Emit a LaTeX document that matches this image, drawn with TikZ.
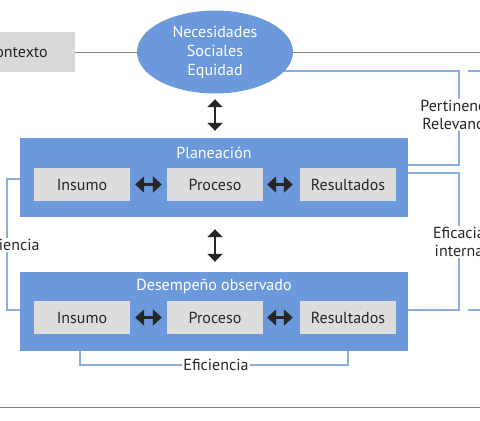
\documentclass[tikz,border=0pt]{standalone}
\usepackage{fontspec}
\setmainfont{PT Sans}
\usetikzlibrary{arrows.meta,backgrounds,shapes.geometric}
\definecolor{boxblue}{RGB}{108,153,219}
\definecolor{lineblue}{RGB}{138,174,224}
\definecolor{innergray}{RGB}{221,221,221}
\definecolor{ctxgray}{RGB}{217,217,217}
\definecolor{rulegray}{RGB}{128,128,128}
\tikzset{
  txt/.style={font=\fontsize{16}{18}\selectfont},
  bigbox/.style={rectangle, fill=boxblue, minimum width=388pt, minimum height=79pt, inner sep=0},
  innerbox/.style={rectangle, fill=innergray, minimum width=96pt, minimum height=33pt, inner sep=0, txt, text=black!85},
  title/.style={txt, text=white, inner sep=0},
  harrow/.style={{Triangle[width=16pt,length=9pt]}-{Triangle[width=16pt,length=9pt]}, line width=3.5pt, black!85},
  varrow/.style={{Triangle[width=15pt,length=8pt]}-{Triangle[width=15pt,length=8pt]}, line width=2pt, black!85},
  bluelink/.style={draw=lineblue, line width=2pt},
  graylink/.style={draw=rulegray, line width=1pt},
  lbl/.style={txt, fill=white, inner sep=1.5pt, align=center, text=black!85}
}
\begin{document}
\begin{tikzpicture}[x=1pt,y=-1pt]
\useasboundingbox (0,0) rectangle (480,421);
\clip (0,0) rectangle (480,421);
% context box
\node[rectangle, fill=ctxgray, minimum width=120pt, minimum height=40pt, inner sep=0, anchor=east] (ctx) at (75,52) {};
\node[txt, anchor=base east, inner sep=0, text=black!85] (ctxt) at (48,57.5) {Contexto};
% ellipse
\node[ellipse, fill=boxblue, minimum width=156pt, minimum height=83pt, inner sep=0, text=white, align=center, font=\fontsize{16}{19}\selectfont] (nec) at (215,52) {Necesidades\\Sociales\\Equidad};
% big boxes
\node[bigbox] (plan) at (214,177.5) {};
\node[title] (plant) at (214,153) {Planeación};
\node[innerbox] (ins1) at (82,184.5) {Insumo};
\node[innerbox] (pro1) at (215,184.5) {Proceso};
\node[innerbox] (res1) at (348,184.5) {Resultados};
\node[bigbox] (des) at (214,311.5) {};
\node[title] (dest) at (214,286) {Desempeño observado};
\node[innerbox] (ins2) at (82,317.5) {Insumo};
\node[innerbox] (pro2) at (215,317.5) {Proceso};
\node[innerbox] (res2) at (348,317.5) {Resultados};
% arrows
\draw[harrow, shorten <=5pt, shorten >=5pt] (ins1) -- (pro1);
\draw[harrow, shorten <=4pt, shorten >=7pt] (pro1) -- (res1);
\draw[harrow, shorten <=5pt, shorten >=5pt] (ins2) -- (pro2);
\draw[harrow, shorten <=4pt, shorten >=7pt] (pro2) -- (res2);
\draw[varrow, shorten <=5.5pt, shorten >=7pt] (nec.south) -- (plan.north -| nec.south);
\draw[varrow, shorten <=12pt, shorten >=10pt] (plan.south -| nec.south) -- (des.north -| nec.south);
% coordinates
\coordinate (rA) at (459,71);
\coordinate (rB) at (459,165);
\coordinate (rC) at (459,173);
\coordinate (rD) at (459,310);
\coordinate (sA) at (468,71);
\coordinate (sB) at (480,71);
\coordinate (sC) at (468,310);
\coordinate (sD) at (480,310);
\coordinate (gE) at (480,52);
\coordinate (lA) at (7,179);
\coordinate (lB) at (7,310);
\coordinate (bA) at (80,365);
\coordinate (bB) at (348,365);
\coordinate (hL) at (0,407);
\coordinate (hR) at (480,407);
% labels
\node[lbl] (pert) at (459,115) {Pertinencia\\Relevancia};
\node[lbl] (efint) at (459,242) {Eficacia\\interna};
\node[lbl] (efl) at (7,245) {Eficiencia};
\node[lbl] (efb) at (216,365) {Eficiencia};
\begin{scope}[on background layer]
\draw[graylink] (ctx.east) -- (nec.west);
\draw[graylink] (nec.east) -- (gE);
\draw[bluelink] (nec.center |- rA) -- (rA) -- (rB) -- (plan.east |- rB);
\draw[bluelink] (plan.east |- rC) -- (rC) -- (rD) -- (des.east |- rD);
\draw[bluelink] (sA) -- (sB);
\draw[bluelink] (sC) -- (sD);
\draw[bluelink] (plan.west |- lA) -- (lA) -- (lB) -- (des.west |- lB);
\draw[bluelink] (bA |- des.south) -- (bA) -- (bB) -- (bB |- des.south);
\draw[graylink] (hL) -- (hR);
\end{scope}
\end{tikzpicture}
\end{document}
